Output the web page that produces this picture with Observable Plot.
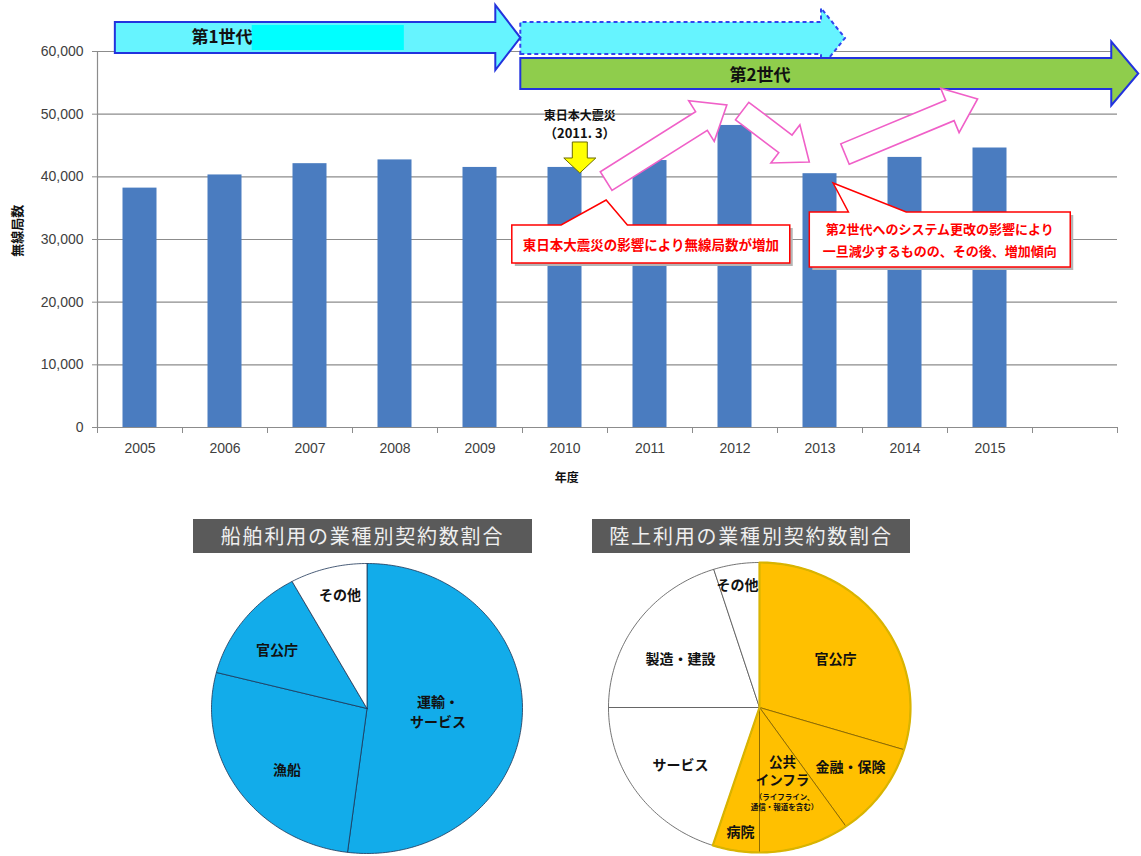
<!DOCTYPE html>
<html><head><meta charset="utf-8">
<script src="https://cdn.jsdelivr.net/npm/d3@7"></script>
<script src="https://cdn.jsdelivr.net/npm/@observablehq/plot@0.6"></script>
<style>
body{margin:0;background:#fff;}
#root{position:relative;width:1141px;height:856px;overflow:hidden;font-family:"Noto Sans CJK JP",sans-serif;}
.titlebar{position:absolute;background:#5a5a5a;color:#efefef;font-family:"Noto Sans CJK JP",sans-serif;font-size:20px;letter-spacing:1.8px;text-align:center;line-height:34px;height:34px;}
</style></head><body><div id="root"></div>
<script>
// ---------------- data ----------------
const years = [2005, 2006, 2007, 2008, 2009, 2010, 2011, 2012, 2013, 2014, 2015];
const stations = [38200, 40300, 42100, 42700, 41500, 41500, 42600, 48200, 40500, 43100, 44600];
const yTicks = [0, 10000, 20000, 30000, 40000, 50000, 60000];
const yLabel = "無線局数";
const xLabel = "年度";

const shipTitle = "船舶利用の業種別契約数割合";
const shipCategories = ["運輸・サービス", "漁船", "官公庁", "その他"];
const shipShares = [52, 27, 13, 8];
const shipLabels = ["運輸・\nサービス", "漁船", "官公庁", "その他"];

const landTitle = "陸上利用の業種別契約数割合";
const landCategories = ["官公庁", "金融・保険", "公共インフラ", "病院", "サービス", "製造・建設", "その他"];
const landShares = [29.7, 10.6, 9.7, 5.0, 20.0, 20.1, 4.9];
const landLabels = ["官公庁", "金融・保険", "公共\nインフラ", "病院", "サービス", "製造・建設", "その他"];
const landNote = "（ライフライン、\n通信・報道を含む）";
const landHighlighted = [true, true, true, true, false, false, false];

// ---------------- layout / annotation config (data units) ----------------
const shipLabelPos = [[0.457, -0.014], [-0.514, -0.414], [-0.579, 0.414], [-0.174, 0.793]];
const landLabelPos = [[0.503, 0.345], [0.603, -0.40], [0.152, -0.431], [-0.126, -0.848], [-0.523, -0.386], [-0.523, 0.345], [-0.146, 0.855]];
const landNotePos = [0.165, -0.652];

const genArrows = [
  {from: [2009.48, 62070], to: [2013.30, 62070], bw: 32, hw: 60, hl: 24, fill: "#66f4ff", stroke: "#3344ee", dash: "4,3"},
  {from: [2004.71, 62150], to: [2009.48, 62150], bw: 31, hw: 65, hl: 25, fill: "#66f4ff", stroke: "#2233dd"},
  {from: [2009.48, 56410], to: [2016.75, 56410], bw: 31, hw: 64, hl: 27, fill: "#8fcd4c", stroke: "#2233dd"}
];
const genLabels = [
  {text: "第1世代", x: 2005.97, y: 62400},
  {text: "第2世代", x: 2012.3, y: 56330}
];
const trendArrows = [
  {from: [2010.49, 39250], to: [2011.91, 51380]},
  {from: [2012.09, 50420], to: [2012.88, 42290]},
  {from: [2013.30, 43560], to: [2014.86, 52340]}
];
const quakeArrow = {from: [2010.18, 45480], to: [2010.18, 40530]};
const callouts = [
  {x1: 2009.38, x2: 2012.65, y1: 32230, y2: 26170, tip: [2010.49, 36220], base: [2009.96, 2010.74],
   lines: ["東日本大震災の影響により無線局数が増加"], size: 13.5},
  {x1: 2012.88, x2: 2015.95, y1: 34310, y2: 25530, tip: [2013.16, 38930], base: [2013.34, 2014.02],
   lines: ["第2世代へのシステム更改の影響により", "一旦減少するものの、その後、増加傾向"], size: 13}
];

// ---------------- bar chart ----------------
const root = document.getElementById("root");
const bars = years.map((year, i) => ({year, value: stations[i]}));
const boundaries = d3.range(2004.5, 2016.6, 1);
const jp = "'Noto Sans CJK JP', sans-serif";

const barPlot = Plot.plot({
  width: 1141, height: 490,
  marginLeft: 97, marginRight: 24, marginTop: 51, marginBottom: 63,
  x: {domain: [2004.5, 2016.5]},
  y: {domain: [0, 60000]},
  style: {fontFamily: "'Liberation Sans', sans-serif", fontSize: "14px", color: "#404040", background: "transparent", overflow: "visible"},
  marks: [
    Plot.ruleY(yTicks, {stroke: "#8c8c8c", strokeWidth: 1.2}),
    Plot.ruleX([2004.5], {y1: 0, y2: 60000, stroke: "#8c8c8c", strokeWidth: 1.2}),
    Plot.rectY(bars, {x1: d => d.year - 0.2, x2: d => d.year + 0.2, y1: 0, y2: "value", fill: "#4a7cc0"}),
    Plot.axisY({ticks: yTicks, tickSize: 5, tickPadding: 9, tickFormat: d3.format(","), color: "#404040", stroke: "#8c8c8c", label: null}),
    Plot.axisX({ticks: boundaries, tickSize: 6, tickFormat: () => "", stroke: "#8c8c8c", label: null}),
    Plot.axisX({ticks: years, tickSize: 0, tickPadding: 16, tickFormat: d => String(d), color: "#404040", label: null}),
    Plot.text([xLabel], {x: 2010.02, y: 0, dy: 51, text: d => d, fontWeight: "bold", fontSize: 12, fill: "#111", fontFamily: "Noto Sans CJK JP"}),
    Plot.text([yLabel], {frameAnchor: "left", textAnchor: "middle", dx: -80, y: 31400, text: d => d, rotate: -90, fontWeight: "bold", fontSize: 13, fill: "#111", fontFamily: "Noto Sans CJK JP", letterSpacing: 1})
  ]
});
barPlot.style.position = "absolute"; barPlot.style.left = "0px"; barPlot.style.top = "0px";
root.appendChild(barPlot);

// annotations drawn through the plot's own scales
const xs = barPlot.scale("x"), ys = barPlot.scale("y");
const px = v => xs.apply(v), py = v => ys.apply(v);
const P = ([a, b]) => [px(a), py(b)];
const g = d3.select(barPlot).append("g");

function arrowPts([x0, y0], [x1, y1], bw, hw, hl) {
  const L = Math.hypot(x1 - x0, y1 - y0), ux = (x1 - x0) / L, uy = (y1 - y0) / L, nx = -uy, ny = ux;
  const bx = x1 - ux * hl, by = y1 - uy * hl;
  return [
    [x0 + nx * bw / 2, y0 + ny * bw / 2], [bx + nx * bw / 2, by + ny * bw / 2], [bx + nx * hw / 2, by + ny * hw / 2],
    [x1, y1], [bx - nx * hw / 2, by - ny * hw / 2], [bx - nx * bw / 2, by - ny * bw / 2], [x0 - nx * bw / 2, y0 - ny * bw / 2]
  ];
}
const poly = pts => "M" + pts.map(p => p.join(",")).join("L") + "Z";
const label = (x, y, t, size, fill = "#111") => g.append("text").attr("x", x).attr("y", y)
  .attr("text-anchor", "middle").attr("dominant-baseline", "central").attr("font-family", jp)
  .attr("font-weight", "bold").attr("font-size", size).attr("fill", fill).text(t);

for (const a of genArrows) {
  g.append("path").attr("d", poly(arrowPts(P(a.from), P(a.to), a.bw, a.hw, a.hl)))
    .attr("fill", a.fill).attr("stroke", a.stroke).attr("stroke-width", 2).attr("stroke-linejoin", "miter")
    .attr("stroke-dasharray", a.dash || null);
}
// highlight behind first generation label
g.append("rect").attr("x", px(2006.32)).attr("y", py(64150)).attr("width", px(2008.11) - px(2006.32)).attr("height", py(60160) - py(64150)).attr("fill", "#00ffff");
for (const l of genLabels) label(px(l.x), py(l.y), l.text, 17);

// earthquake marker
label(px(2010.18), py(49790), "東日本大震災", 12);
label(px(2010.18), py(47070), "（2011. 3）", 13);
g.append("path").attr("d", poly(arrowPts(P(quakeArrow.from), P(quakeArrow.to), 15, 32, 15)))
  .attr("fill", "#ffff00").attr("stroke", "#6b6b00").attr("stroke-width", 1);

for (const a of trendArrows) {
  g.append("path").attr("d", poly(arrowPts(P(a.from), P(a.to), 22, 48, 30)))
    .attr("fill", "#ffffff").attr("stroke", "#f060c8").attr("stroke-width", 1.6);
}

for (const c of callouts) {
  const L = px(c.x1), R = px(c.x2), T = py(c.y1), B = py(c.y2);
  const pts = [[L, T], [px(c.base[0]), T], P(c.tip), [px(c.base[1]), T], [R, T], [R, B], [L, B]];
  g.append("path").attr("d", poly(pts.map(([x, y]) => [x + 3, y + 3]))).attr("fill", "#b5b5b5");
  g.append("path").attr("d", poly(pts)).attr("fill", "#fff").attr("stroke", "#ff0000").attr("stroke-width", 1.5);
  const cx = (L + R) / 2, cy = (T + B) / 2, lh = c.size * 1.75;
  c.lines.forEach((t, i) => label(cx, cy + (i - (c.lines.length - 1) / 2) * lh, t, c.size, "#ff0000"));
}

// ---------------- pies ----------------
function sliceGeom(shares) {
  const total = d3.sum(shares);
  let acc = 0;
  return shares.map((s, i) => {
    const a0 = acc / total * 2 * Math.PI; acc += s; const a1 = acc / total * 2 * Math.PI;
    return {i, a0, a1};
  });
}
function arcPts(a0, a1, withCenter) {
  const n = Math.max(2, Math.ceil((a1 - a0) / (Math.PI / 180)));
  const pts = withCenter ? [{x: 0, y: 0}] : [];
  for (let k = 0; k <= n; k++) { const a = a0 + (a1 - a0) * k / n; pts.push({x: Math.sin(a), y: Math.cos(a)}); }
  if (withCenter) pts.push({x: 0, y: 0});
  return pts;
}
function piePlot(w, h, marks) {
  return Plot.plot({
    width: w, height: h, margin: 3,
    x: {domain: [-1, 1], axis: null}, y: {domain: [-1, 1], axis: null},
    style: {background: "transparent", overflow: "visible", fontFamily: jp},
    marks
  });
}

// ship pie
const shipGeom = sliceGeom(shipShares);
const shipMarks = shipGeom.map(s => Plot.line(arcPts(s.a0, s.a1, true), {
  x: "x", y: "y", fill: shipCategories[s.i] === "その他" ? "#ffffff" : "#12acea",
  stroke: "#1d3557", strokeWidth: 0.8, curve: "linear"}));
shipMarks.push(Plot.text(shipLabels.map((t, i) => ({t, x: shipLabelPos[i][0], y: shipLabelPos[i][1]})),
  {x: "x", y: "y", text: "t", fontWeight: "bold", fontSize: 14, lineHeight: 1.45, fill: "#111"}));
const shipPie = piePlot(317, 296, shipMarks);
shipPie.style.position = "absolute"; shipPie.style.left = "208px"; shipPie.style.top = "560px";
root.appendChild(shipPie);

// land pie
const landGeom = sliceGeom(landShares);
const landMarks = landGeom.map(s => Plot.line(arcPts(s.a0, s.a1, true), {
  x: "x", y: "y", fill: landHighlighted[s.i] ? "#ffc000" : "#ffffff",
  stroke: landHighlighted[s.i] ? "#7f5f00" : "#505050", strokeWidth: 0.8, curve: "linear"}));
const hiEnd = landGeom.filter(s => landHighlighted[s.i]).slice(-1)[0].a1;
landMarks.push(Plot.line(arcPts(0, hiEnd, true), {x: "x", y: "y", stroke: "#d9b400", strokeWidth: 2.2, curve: "linear"}));
landMarks.push(Plot.text(landLabels.map((t, i) => ({t, x: landLabelPos[i][0], y: landLabelPos[i][1], s: i === 2 ? 13.5 : 14})),
  {x: "x", y: "y", text: "t", fontWeight: "bold", fontSize: "s", lineHeight: 1.4, fill: "#111"}));
landMarks.push(Plot.text([landNote], {x: landNotePos[0], y: landNotePos[1], text: d => d, fontWeight: "bold", fontSize: 7.5, lineHeight: 1.35, fill: "#111"}));
const landPie = piePlot(308, 296, landMarks);
landPie.style.position = "absolute"; landPie.style.left = "605px"; landPie.style.top = "559px";
root.appendChild(landPie);

// title bars
for (const [t, l, w] of [[shipTitle, 193, 339], [landTitle, 592, 318]]) {
  const d = document.createElement("div");
  d.className = "titlebar"; d.style.left = l + "px"; d.style.top = "519px"; d.style.width = w + "px";
  d.textContent = t; root.appendChild(d);
}
</script></body></html>
